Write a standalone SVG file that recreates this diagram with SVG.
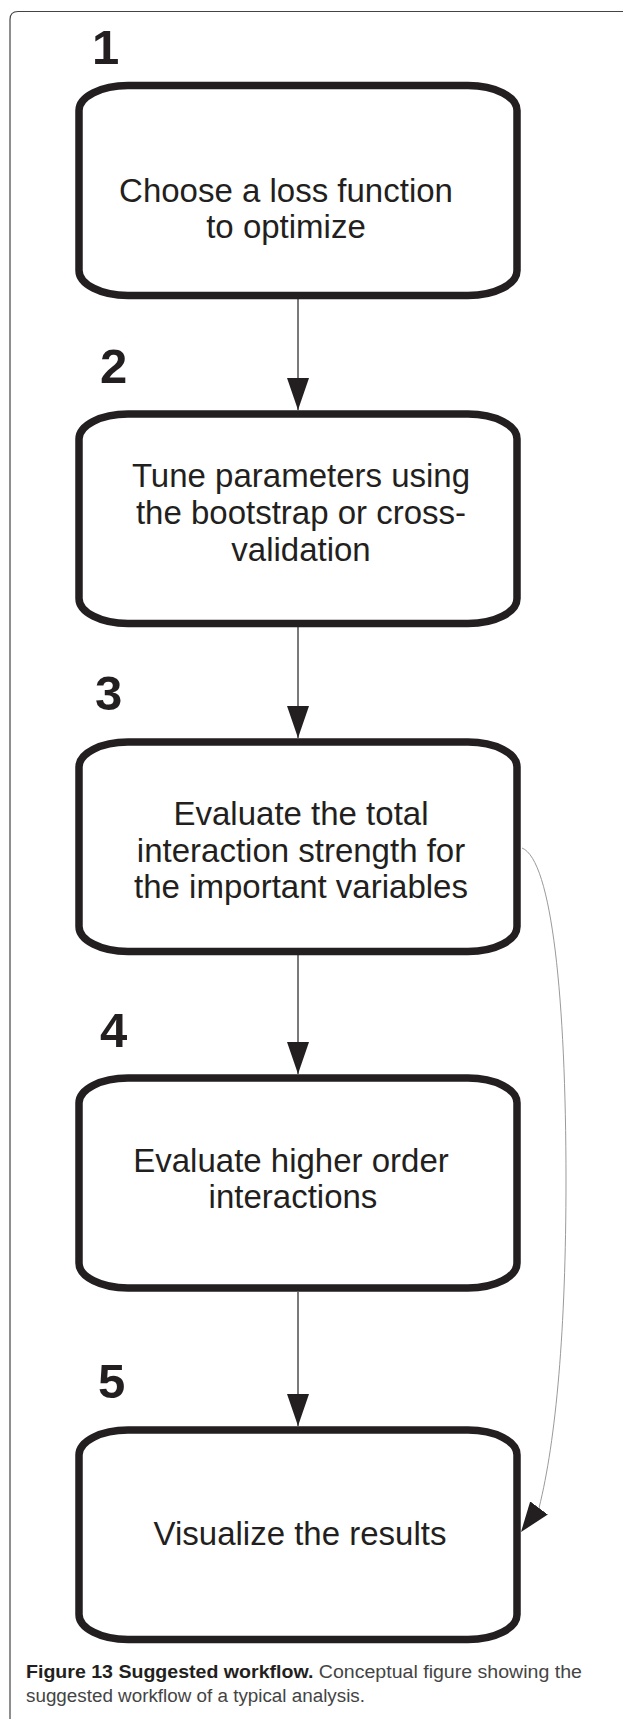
<svg xmlns="http://www.w3.org/2000/svg" width="623" height="1719" viewBox="0 0 623 1719">
<style>
.box{fill:#fff;stroke:#231f20;stroke-width:7.5}
.lbl{font-family:"Liberation Sans",Arial,sans-serif;font-size:33px;fill:#231f20;text-anchor:middle}
.num{font-family:"Liberation Sans",Arial,sans-serif;font-size:49px;font-weight:bold;fill:#231f20}
.edge{stroke:#231f20;stroke-width:1.2;fill:none}
.soft{stroke:#9a9a9a;stroke-width:1;fill:none}
.cap{font-family:"Liberation Sans",Arial,sans-serif;font-size:18px;fill:#444}
</style>
<defs>
<marker id="ah" markerUnits="userSpaceOnUse" viewBox="0 0 32 22" markerWidth="32" markerHeight="22" refX="32" refY="11" orient="auto">
<path d="M0,0 L32,11 L0,22 z" fill="#231f20"/>
</marker>
<marker id="ah2" markerUnits="userSpaceOnUse" viewBox="0 0 32 22" markerWidth="32" markerHeight="22" refX="0" refY="11" orient="126.87">
<path d="M0,0 L30,11 L0,22 z" fill="#231f20"/>
</marker>
</defs>
<rect width="623" height="1719" fill="#fff"/>
<path d="M623,11.5 H18 Q10,11.5 10,19.5 V1719" fill="none" stroke="#444" stroke-width="1.2"/>

<g id="connectors">
<line class="edge" x1="298" y1="299" x2="298" y2="410" marker-end="url(#ah)"/>
<line class="edge" x1="298" y1="627" x2="298" y2="738" marker-end="url(#ah)"/>
<line class="edge" x1="298" y1="955" x2="298" y2="1074" marker-end="url(#ah)"/>
<line class="edge" x1="298" y1="1292" x2="298" y2="1426" marker-end="url(#ah)"/>
<path class="soft" d="M522,848 C552,860 566,1000 566,1180 C566,1330 556,1440 539,1508" marker-end="url(#ah2)"/>
</g>

<g id="node1">
<text class="num" x="92" y="64">1</text>
<rect class="box" x="79" y="85.5" width="438" height="210" rx="49" ry="25"/>
<text class="lbl" x="286" y="201.5">Choose a loss function</text>
<text class="lbl" x="286" y="237.5">to optimize</text>
</g>

<g id="node2">
<text class="num" x="100" y="383">2</text>
<rect class="box" x="79" y="414" width="438" height="209.5" rx="49" ry="25"/>
<text class="lbl" x="301" y="487">Tune parameters using</text>
<text class="lbl" x="301" y="524">the bootstrap or cross-</text>
<text class="lbl" x="301" y="561">validation</text>
</g>

<g id="node3">
<text class="num" x="95" y="710">3</text>
<rect class="box" x="79" y="742" width="438" height="209.5" rx="49" ry="25"/>
<text class="lbl" x="301" y="825">Evaluate the total</text>
<text class="lbl" x="301" y="861.5">interaction strength for</text>
<text class="lbl" x="301" y="898">the important variables</text>
</g>

<g id="node4">
<text class="num" x="100" y="1047">4</text>
<rect class="box" x="79" y="1078" width="438" height="210" rx="49" ry="25"/>
<text class="lbl" x="291" y="1171.5">Evaluate higher order</text>
<text class="lbl" x="293" y="1208">interactions</text>
</g>

<g id="node5">
<text class="num" x="98" y="1398">5</text>
<rect class="box" x="79" y="1430" width="438" height="209.5" rx="49" ry="25"/>
<text class="lbl" x="300" y="1545">Visualize the results</text>
</g>

<g id="caption">
<text class="cap" x="26" y="1678" textLength="556" lengthAdjust="spacingAndGlyphs"><tspan font-weight="bold" fill="#231f20">Figure 13 Suggested workflow.</tspan> Conceptual figure showing the</text>
<text class="cap" x="26" y="1702" textLength="339" lengthAdjust="spacingAndGlyphs">suggested workflow of a typical analysis.</text>
</g>
</svg>
